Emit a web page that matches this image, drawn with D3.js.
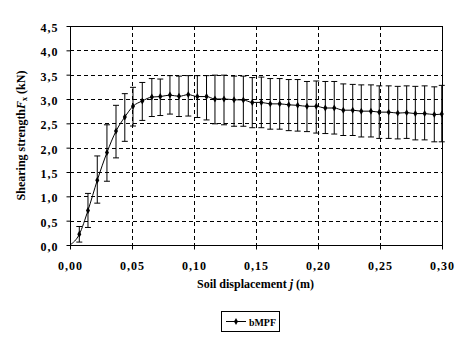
<!DOCTYPE html>
<html><head><meta charset="utf-8">
<script src="https://cdn.jsdelivr.net/npm/d3@7"></script>
<style>body{margin:0;background:#fff}svg{display:block}svg text{font-family:"Liberation Serif","Times New Roman",serif !important;font-weight:bold;fill:#000}</style>
</head><body>
<svg id="c" width="471" height="344" font-family="Liberation Serif"></svg>
<script>
const displacement = [0,0.0075,0.0145,0.022,0.0298,0.0371,0.0442,0.0508,0.0583,0.066,0.0728,0.0806,0.0879,0.0954,0.1027,0.1101,0.1169,0.1242,0.1323,0.1398,0.147,0.1543,0.1615,0.1691,0.1764,0.1836,0.1911,0.1986,0.2059,0.2131,0.2204,0.228,0.2349,0.2427,0.2494,0.257,0.2643,0.2715,0.2785,0.286,0.2938,0.2998];
const strength = [0,0.22,0.71,1.33,1.90,2.34,2.63,2.85,2.96,3.04,3.05,3.08,3.055,3.09,3.05,3.05,3.00,3.00,2.985,2.98,2.93,2.93,2.90,2.90,2.88,2.87,2.85,2.85,2.815,2.815,2.77,2.77,2.75,2.75,2.73,2.73,2.71,2.72,2.70,2.70,2.68,2.69];
const errUpper = [0,0.38,1.06,1.83,2.47,2.87,3.11,3.24,3.34,3.42,3.41,3.48,3.47,3.48,3.48,3.48,3.49,3.49,3.47,3.47,3.44,3.45,3.42,3.42,3.40,3.40,3.36,3.37,3.36,3.36,3.31,3.30,3.29,3.29,3.27,3.27,3.26,3.27,3.26,3.27,3.25,3.28];
const errLower = [0,0.06,0.36,0.86,1.31,1.79,2.13,2.445,2.56,2.64,2.66,2.69,2.64,2.65,2.62,2.57,2.49,2.47,2.44,2.44,2.41,2.41,2.38,2.38,2.35,2.34,2.33,2.30,2.29,2.28,2.25,2.25,2.22,2.22,2.19,2.19,2.18,2.19,2.16,2.16,2.12,2.12];
const xTicks = [0,0.05,0.10,0.15,0.20,0.25,0.30];
const yTicks = [0,0.5,1.0,1.5,2.0,2.5,3.0,3.5,4.0,4.5];
const seriesName = "bMPF";

const svg = d3.select("#c");
const L=70, R=442, T=26, B=245;
const x = d3.scaleLinear().domain([0,0.30]).range([L,R]);
const y = d3.scaleLinear().domain([0,4.5]).range([B,T]);
const comma = v => v.toFixed(2).replace(".",",");
const comma1 = v => v.toFixed(1).replace(".",",");

// grid
svg.append("g").selectAll("line").data(yTicks.slice(1,-1)).join("line")
  .attr("x1",L).attr("x2",R).attr("y1",d=>Math.round(y(d))+0.5).attr("y2",d=>Math.round(y(d))+0.5)
  .attr("stroke","#000").attr("stroke-dasharray","4,3").attr("stroke-width",1);
svg.append("g").selectAll("line").data(xTicks.slice(1,-1)).join("line")
  .attr("y1",T).attr("y2",B).attr("x1",d=>Math.round(x(d))+0.5).attr("x2",d=>Math.round(x(d))+0.5)
  .attr("stroke","#000").attr("stroke-dasharray","4,3").attr("stroke-width",1);
// frame
svg.append("rect").attr("x",L+0.5).attr("y",T+0.5).attr("width",R-L).attr("height",B-T)
  .attr("fill","none").attr("stroke","#000").attr("stroke-width",1);

// axes
const xAxis = svg.append("g").attr("transform",`translate(0,${B+0.5})`)
  .call(d3.axisBottom(x).tickValues(xTicks).tickFormat(comma).tickSize(4).tickPadding(12));
const yAxis = svg.append("g").attr("transform",`translate(${L+0.5},0)`)
  .call(d3.axisLeft(y).tickValues(yTicks).tickFormat(comma1).tickSize(4).tickPadding(8));
[xAxis,yAxis].forEach(a=>{a.attr("font-family",null).attr("font-size",null);a.select(".domain").remove();a.selectAll("text").style("font-size","12px").style("letter-spacing","1px").attr("fill","#000");a.selectAll("line").attr("stroke","#000");});
yAxis.selectAll("text").attr("dy","0.45em");

const data = displacement.map((d,i)=>({x:d,y:strength[i],hi:errUpper[i],lo:errLower[i]}));
const pts = data.slice(1);
// error bars
const eb = svg.append("g").attr("stroke","#000").attr("stroke-width",1);
eb.selectAll("line.v").data(pts).join("line").attr("class","v")
  .attr("x1",d=>x(d.x)).attr("x2",d=>x(d.x)).attr("y1",d=>y(d.hi)).attr("y2",d=>y(d.lo));
eb.selectAll("line.t").data(pts).join("line").attr("class","t")
  .attr("x1",d=>x(d.x)-3).attr("x2",d=>x(d.x)+3).attr("y1",d=>y(d.hi)).attr("y2",d=>y(d.hi));
eb.selectAll("line.b").data(pts).join("line").attr("class","b")
  .attr("x1",d=>x(d.x)-3).attr("x2",d=>x(d.x)+3).attr("y1",d=>y(d.lo)).attr("y2",d=>y(d.lo));
// line
svg.append("path").datum(data).attr("fill","none").attr("stroke","#000").attr("stroke-width",1)
  .attr("d",d3.line().x(d=>x(d.x)).y(d=>y(d.y)).curve(d3.curveMonotoneX));
// markers
const sym = d3.symbol().type(d3.symbolDiamond).size(14);
svg.append("g").selectAll("path").data(pts).join("path")
  .attr("transform",d=>`translate(${x(d.x)},${y(d.y)})`).attr("d",sym).attr("fill","#000");

// titles
const xt = svg.append("text").attr("x",255.5).attr("y",288).attr("text-anchor","middle").style("font-size","12px");
xt.append("tspan").text("Soil displacement ");
xt.append("tspan").style("font-style","italic").text("j");
xt.append("tspan").text(" (m)");
const yt = svg.append("text").attr("transform",`translate(25,${(T+B)/2}) rotate(-90)`).attr("text-anchor","middle").style("font-size","12px");
yt.append("tspan").text("Shearing strength");
yt.append("tspan").style("font-style","italic").text("F");
yt.append("tspan").style("font-size","8px").attr("dy",2).text("x");
yt.append("tspan").attr("dy",-2).text(" (kN)");

// legend
const lg = svg.append("g");
lg.append("rect").attr("x",221.5).attr("y",311.5).attr("width",58).attr("height",20).attr("fill","#fff").attr("stroke","#000");
lg.append("line").attr("x1",226).attr("x2",246).attr("y1",321.5).attr("y2",321.5).attr("stroke","#000");
lg.append("path").attr("transform","translate(236,321.5)").attr("d",sym).attr("fill","#000");
lg.append("text").attr("x",249).attr("y",325.5).style("font-size","11px").attr("textLength",27).attr("lengthAdjust","spacingAndGlyphs").text(seriesName);
</script>
</body></html>
